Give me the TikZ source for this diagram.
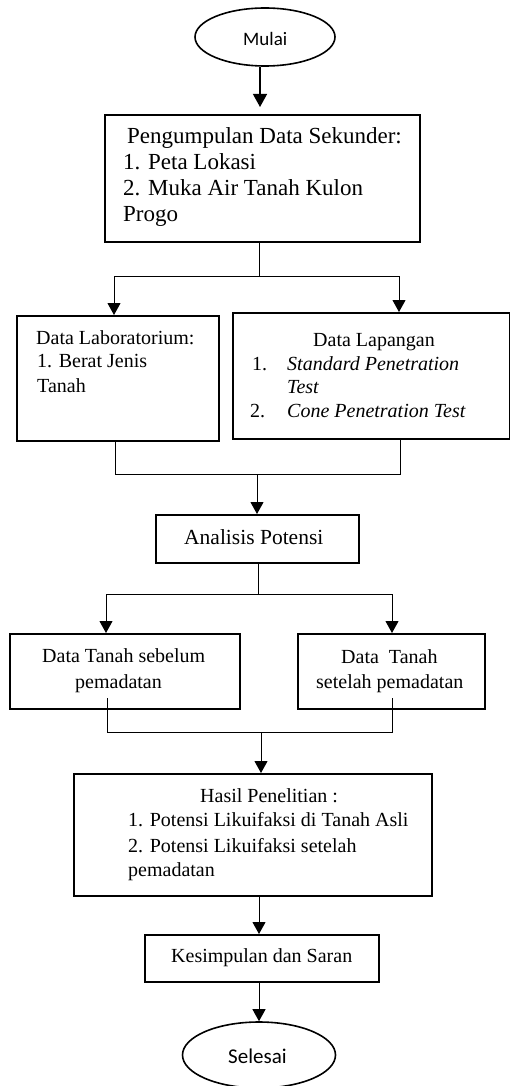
\documentclass[tikz,border=0pt]{standalone}
\usepackage{fontspec}
\setmainfont{Liberation Serif}
\newfontfamily\calfont{Carlito}
\usetikzlibrary{shapes.geometric,arrows.meta}
\begin{document}
\begin{tikzpicture}[x=1pt,y=-1pt,
  box/.style={draw, line width=2pt, inner sep=0pt, anchor=north west},
  oval/.style={draw, ellipse, line width=1.6pt, inner sep=0pt, font=\calfont\fontsize{19}{22}\selectfont},
  txt/.style={anchor=base west, inner sep=0pt, font=\fontsize{20}{24}\selectfont},
  bigtxt/.style={txt, font=\fontsize{23}{26}\selectfont},
  conn/.style={line width=1pt},
  arr/.style={line width=1pt, -{Triangle[length=12pt,width=13pt]}}]
\useasboundingbox (0,0) rectangle (510,1086);

% start
\node[oval, minimum width=140pt, minimum height=58pt] (mulai) at (265,37) {};
\node[anchor=base west, inner sep=0pt, font=\calfont\fontsize{19}{22}\selectfont] (mulait) at (243,46) {Mulai};

% box 1
\node[box, minimum width=315pt, minimum height=127pt] (b1) at (104,114) {};
\node[bigtxt] (b1a) at (127,144) {Pengumpulan Data Sekunder:};
\node[bigtxt] (b1b) at (123,170) {1. Peta Lokasi};
\node[bigtxt] (b1c) at (123,196) {2. Muka Air Tanah Kulon};
\node[bigtxt] (b1d) at (123,221) {Progo};

% lab box
\node[box, minimum width=202pt, minimum height=125pt] (lab) at (16,315) {};
\node[txt] (laba) at (36,344) {Data Laboratorium:};
\node[txt] (labb) at (37,367) {1. Berat Jenis};
\node[txt] (labc) at (37,392) {Tanah};

% lapangan box
\node[box, minimum width=277pt, minimum height=126pt] (lap) at (232,312) {};
\node[txt] (lapa) at (313,346) {Data Lapangan};
\node[txt] (lapb1) at (252,370) {1.};
\node[txt] (lapb) at (287,370) {\itshape Standard Penetration};
\node[txt] (lapc) at (287,393) {\itshape Test};
\node[txt] (lapd1) at (250,417) {2.};
\node[txt] (lapd) at (287,417) {\itshape Cone Penetration Test};

% analisis
\node[box, line width=1.6pt, minimum width=203pt, minimum height=48pt] (ana) at (155,514) {};
\node[txt, font=\fontsize{21.5}{24}\selectfont] (anat) at (184,544) {Analisis Potensi};

% tanah boxes
\node[box, minimum width=230pt, minimum height=75pt] (seb) at (9,633) {};
\node[txt] (seba) at (42,662) {Data Tanah sebelum};
\node[txt] (sebb) at (75,688) {pemadatan};
\node[box, minimum width=187pt, minimum height=75pt] (set) at (297,633) {};
\node[txt] (seta) at (341,663) {Data\ \ Tanah};
\node[txt] (setb) at (316,688) {setelah pemadatan};

% hasil
\node[box, minimum width=358pt, minimum height=122pt] (has) at (73,773) {};
\node[txt] (hasa) at (200,802) {Hasil Penelitian :};
\node[txt] (hasb) at (128,826) {1. Potensi Likuifaksi di Tanah Asli};
\node[txt] (hasc) at (128,852) {2. Potensi Likuifaksi setelah};
\node[txt] (hasd) at (128,876) {pemadatan};

% kesimpulan
\node[box, minimum width=234pt, minimum height=47pt] (kes) at (144,934) {};
\node[txt] (kest) at (171,962) {Kesimpulan dan Saran};

% end
\node[oval, minimum width=153pt, minimum height=66pt] (sel) at (259,1055) {};
\node[anchor=base west, inner sep=0pt, font=\calfont\fontsize{21}{24}\selectfont] (selt) at (228,1063) {Selesai};

% connectors
\coordinate (c0) at (260,0);
\draw[line width=1.3pt, -{Triangle[length=13pt,width=14pt]}, shorten >=7pt] (c0 |- mulai.south) -- (c0 |- b1.north);

\coordinate (j1) at (259,276);
\coordinate (j1l) at (114,276);
\coordinate (j1r) at (399,276);
\draw[conn] (j1 |- b1.south) -- (j1);
\draw[conn] (j1l) -- (j1r);
\draw[arr] (j1l) -- (j1l |- lab.north);
\draw[arr] (j1r) -- (j1r |- lap.north);

\coordinate (j2l) at (115,474);
\coordinate (j2r) at (400,474);
\coordinate (j2) at (257,474);
\draw[conn] (j2l |- lab.south) -- (j2l) -- (j2r) -- (j2r |- lap.south);
\draw[arr] (j2) -- (j2 |- ana.north);

\coordinate (j3) at (258,594);
\coordinate (j3l) at (106,594);
\coordinate (j3r) at (392,594);
\draw[conn] (j3 |- ana.south) -- (j3);
\draw[conn] (j3l) -- (j3r);
\draw[arr] (j3l) -- (j3l |- seb.north);
\draw[arr] (j3r) -- (j3r |- set.north);

\coordinate (j4l) at (107,732);
\coordinate (j4r) at (392,732);
\coordinate (j4) at (261,732);
\coordinate (s4l) at (107,698);
\coordinate (s4r) at (392,698);
\draw[conn] (s4l) -- (j4l) -- (j4r) -- (s4r);
\draw[arr] (j4) -- (j4 |- has.north);

\coordinate (c5) at (259,0);
\draw[arr] (c5 |- has.south) -- (c5 |- kes.north);
\draw[arr] (c5 |- kes.south) -- (c5 |- sel.north);
\end{tikzpicture}
\end{document}
